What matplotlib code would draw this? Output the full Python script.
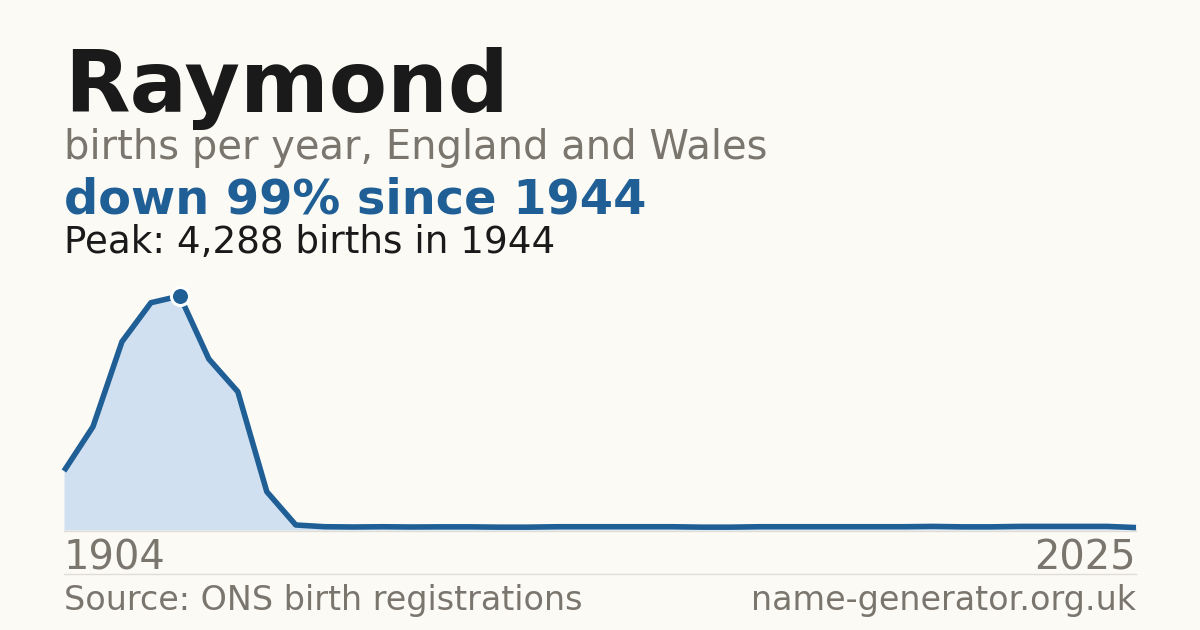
import matplotlib
matplotlib.use("Agg")
import matplotlib.pyplot as plt
from matplotlib.lines import Line2D

# ---- data ----
years = [1904, 1914, 1924, 1934, 1944, 1954, 1964, 1974, 1984] + list(range(1997, 2026))
births = [1081, 1893, 3450, 4165, 4288, 3133, 2534, 702, 92,
          60, 55, 60, 55, 58, 58, 52, 52, 60, 60,
          60, 60, 60, 52, 52, 60, 60, 60, 60, 60,
          60, 66, 58, 58, 66, 66, 66, 66, 45]
name = "Raymond"
subtitle = "births per year, England and Wales"
headline = "down 99% since 1944"
peak_text = "Peak: 4,288 births in 1944"
source = "Source: ONS birth registrations"
site = "name-generator.org.uk"

BG = "#fbfaf5"
BLUE = "#1f5f96"
FILL = "#d0e0f0"
GRAY = "#7a756d"
DARK = "#1a1a1a"
RULE = "#e0ddd6"

W, H = 1200, 630
fig = plt.figure(figsize=(W / 100, H / 100), dpi=100, facecolor=BG)

def px(x, y):
    return x / W, 1 - y / H

# chart area
left, right, base, top = 64, 1136, 530, 290
ax = fig.add_axes([left / W, (H - base) / H, (right - left) / W, (base - top) / H])
ax.set_facecolor("none")
idx = list(range(len(births)))
peak_i = births.index(max(births))
ax.set_xlim(0, len(births) - 1)
ax.set_ylim(0, max(births) * (base - top) / (base - 296))
ax.fill_between(idx, births, 0, color=FILL, lw=0, zorder=1)
ax.plot(idx, births, color=BLUE, lw=4.0, solid_joinstyle="round",
        solid_capstyle="butt", zorder=3, clip_on=False)
ax.plot([peak_i], [births[peak_i]], "o", ms=13, color=BLUE, mec="white",
        mew=2.2, zorder=4, clip_on=False)
ax.axis("off")

# rules
fig.add_artist(Line2D([left / W, right / W], [(H - base - 0.5) / H] * 2,
                      color=RULE, lw=1, zorder=0))
fig.add_artist(Line2D([left / W, right / W], [(H - 574) / H] * 2,
                      color=RULE, lw=1))

# texts
fig.text(*px(64, 112), name, fontsize=61.3, fontweight="bold", color=DARK,
         va="baseline", ha="left")
fig.text(*px(64, 159), subtitle, fontsize=28.8, color=GRAY, va="baseline", ha="left")
fig.text(*px(64, 214), headline, fontsize=34.5, fontweight="bold", color=BLUE,
         va="baseline", ha="left")
fig.text(*px(64, 253), peak_text, fontsize=26.8, color=DARK, va="baseline", ha="left")
fig.text(*px(64, 569), str(years[0]), fontsize=28.8, color=GRAY, va="baseline", ha="left")
fig.text(*px(1136, 569), str(years[-1]), fontsize=28.8, color=GRAY, va="baseline", ha="right")
fig.text(*px(64, 610), source, fontsize=24.05, color=GRAY, va="baseline", ha="left")
fig.text(*px(1136, 610), site, fontsize=24.05, color=GRAY, va="baseline", ha="right")

fig.savefig("out.png", dpi=100, facecolor=BG)
